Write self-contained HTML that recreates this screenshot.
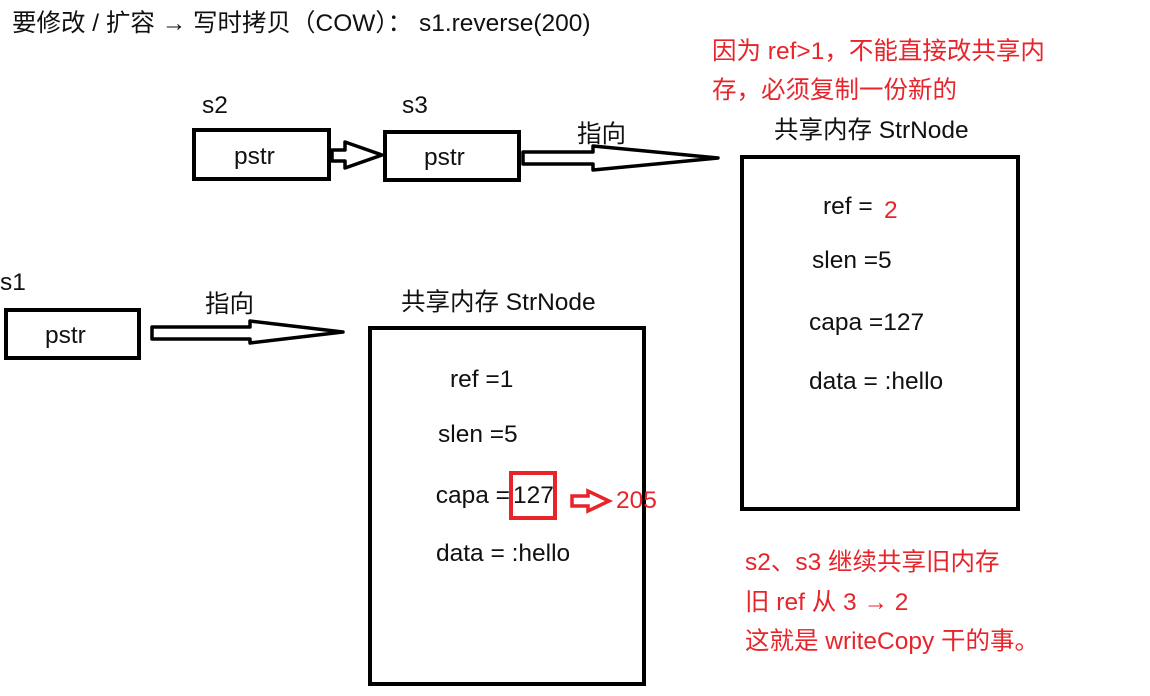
<!DOCTYPE html>
<html><head><meta charset="utf-8"><style>
body{margin:0;background:#fff;width:1150px;height:691px;overflow:hidden}
svg text{font-family:"Liberation Sans","Noto Sans CJK SC",sans-serif;font-size:24.5px;fill:#111}
.r{fill:#e8242b}
</style></head><body>
<svg width="1150" height="691" xmlns="http://www.w3.org/2000/svg">
<g fill="none" stroke="#000" stroke-width="4">
<rect x="194" y="130" width="135" height="49"/>
<rect x="385" y="132" width="134" height="48"/>
<rect x="6" y="310" width="133" height="48"/>
<rect x="742" y="157" width="276" height="352"/>
<rect x="370" y="328" width="274" height="356"/>
</g>
<g fill="none" stroke="#000" stroke-width="3.5" stroke-linejoin="round">
<path d="M332 150 H345 V142 L382 155 L345 168 V161 H332 Z"/>
<path d="M523 152 H593 V146 L718 158 L593 170 V164 H523 Z"/>
<path d="M152 327 H250 V321 L343 332 L250 343 V339 H152 Z"/>
</g>
<rect x="511" y="473" width="44" height="45" fill="none" stroke="#e8242b" stroke-width="4"/>
<path d="M572 496 H588 V491 L609 501 L588 511 V506 H572 Z" fill="none" stroke="#e8242b" stroke-width="3.5"/>
<text x="12" y="31">要修改 / 扩容 → 写时拷贝（COW）： s1.reverse(200)</text>
<text x="202" y="113">s2</text>
<text x="402" y="113">s3</text>
<text x="234" y="164">pstr</text>
<text x="424" y="165">pstr</text>
<text x="577" y="142">指向</text>
<text x="0" y="290">s1</text>
<text x="45" y="343">pstr</text>
<text x="205" y="312">指向</text>
<text x="774" y="138">共享内存 StrNode</text>
<text x="401" y="310">共享内存 StrNode</text>
<text x="823" y="214">ref =</text><text x="884" y="218" class="r">2</text>
<text x="812" y="268">slen =5</text>
<text x="809" y="330">capa =127</text>
<text x="809" y="389">data = :hello</text>
<text x="450" y="387">ref  =1</text>
<text x="438" y="442">slen  =5</text>
<text x="510" y="503" text-anchor="end">capa =</text><text x="513" y="503">127</text>
<text x="436" y="561">data = :hello</text>
<text x="616" y="508" class="r">205</text>
<text x="712" y="59" class="r">因为 ref&gt;1，不能直接改共享内</text>
<text x="712" y="98" class="r">存，必须复制一份新的</text>
<text x="745" y="570" class="r">s2、s3 继续共享旧内存</text>
<text x="745" y="610" class="r">旧 ref 从 3 → 2</text>
<text x="745" y="649" class="r">这就是 writeCopy 干的事。</text>
</svg>
</body></html>
